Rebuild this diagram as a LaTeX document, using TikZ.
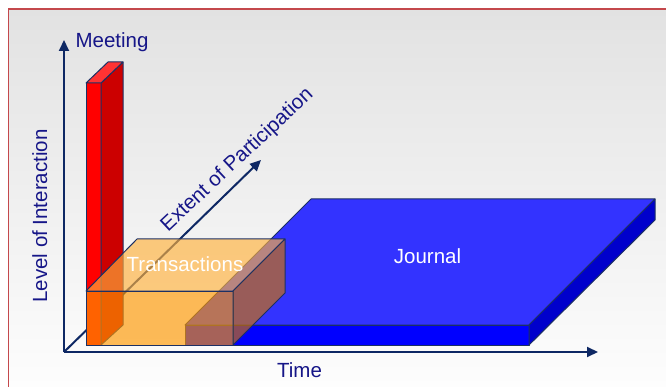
\documentclass[tikz,border=0pt]{standalone}
\usepackage{fontspec}
\setmainfont{Liberation Sans}
\usetikzlibrary{arrows.meta}
\definecolor{navyline}{RGB}{14,40,100}
\definecolor{edgeblue}{RGB}{28,48,100}
\definecolor{labelblue}{RGB}{22,22,136}
\definecolor{framered}{RGB}{196,72,76}
\definecolor{bgtop}{RGB}{226,226,226}
\definecolor{bgbot}{RGB}{253,253,253}
\definecolor{redfront}{RGB}{255,0,0}
\definecolor{redside}{RGB}{204,0,0}
\definecolor{redtop}{RGB}{255,51,51}
\definecolor{bluetop}{RGB}{51,51,255}
\definecolor{bluefront}{RGB}{0,0,255}
\definecolor{blueside}{RGB}{0,0,204}
\definecolor{orfront}{RGB}{255,152,0}
\definecolor{ortop}{RGB}{255,177,60}
\definecolor{orside}{RGB}{209,114,0}
\tikzset{
  axis/.style={navyline, line width=2pt, -{Triangle[length=11pt,width=10pt]}},
  lbl/.style={labelblue, font=\fontsize{20.5}{24}\selectfont, inner sep=0pt},
  wlbl/.style={white, font=\fontsize{20.5}{24}\selectfont, inner sep=0pt},
  face/.style={draw=edgeblue, line width=1pt, line join=round},
  glass/.style={draw=edgeblue, line width=1pt, line join=round, fill opacity=0.65}
}
\begin{document}
\begin{tikzpicture}[x=1pt,y=-1pt]
\useasboundingbox (0,0) rectangle (666,387);
\fill[white] (0,0) rectangle (666,387);
\shade[top color=bgtop, bottom color=bgbot] (8,9) rectangle (666,387);
\draw[framered, line width=2pt] (8,9) -- (666,9);
\draw[framered, line width=1pt] (8,9) -- (8,387);

% axes
\coordinate (O) at (64,352);
\coordinate (ytip) at (64,40);
\coordinate (xtip) at (598,352);
\coordinate (ztip) at (261,160);
\draw[axis] (O) -- (ytip);
\draw[axis] (O) -- (xtip);
\draw[axis] (O) -- (ztip);

% Meeting bar
\filldraw[face, fill=redfront] (86,83) -- (101,83) -- (101,345) -- (86,345) -- cycle;
\filldraw[face, fill=redside] (101,83) -- (123,62) -- (123,325) -- (101,345) -- cycle;
\filldraw[face, fill=redtop] (86,83) -- (108,62) -- (123,62) -- (101,83) -- cycle;

% Journal slab
\filldraw[face, fill=bluetop] (185,325) -- (529,325) -- (655,199) -- (311,199) -- cycle;
\filldraw[face, fill=bluefront] (185,325) -- (529,325) -- (529,345) -- (185,345) -- cycle;
\filldraw[face, fill=blueside] (529,325) -- (655,199) -- (655,220) -- (529,345) -- cycle;

% Transactions box (translucent)
\filldraw[glass, fill=ortop] (86,291) -- (233,291) -- (285,239) -- (137,239) -- cycle;
\filldraw[glass, fill=orfront] (86,291) -- (233,291) -- (233,345) -- (86,345) -- cycle;
\filldraw[glass, fill=orside] (233,291) -- (285,239) -- (285,293) -- (233,345) -- cycle;

% labels
\node[lbl, anchor=base] (meeting) at (112,48) {Meeting};
\node[lbl, anchor=base] (time) at (299.5,377.5) {Time};
\node[lbl, anchor=base, rotate=90] (level) at (47,216) {Level of Interaction};
\node[lbl, anchor=base, rotate=43] (extent) at (241,164) {Extent of Participation};
\node[wlbl, anchor=base] (trans) at (185,272) {Transactions};
\node[wlbl, anchor=base] (journal) at (427.5,263) {Journal};
\end{tikzpicture}
\end{document}
